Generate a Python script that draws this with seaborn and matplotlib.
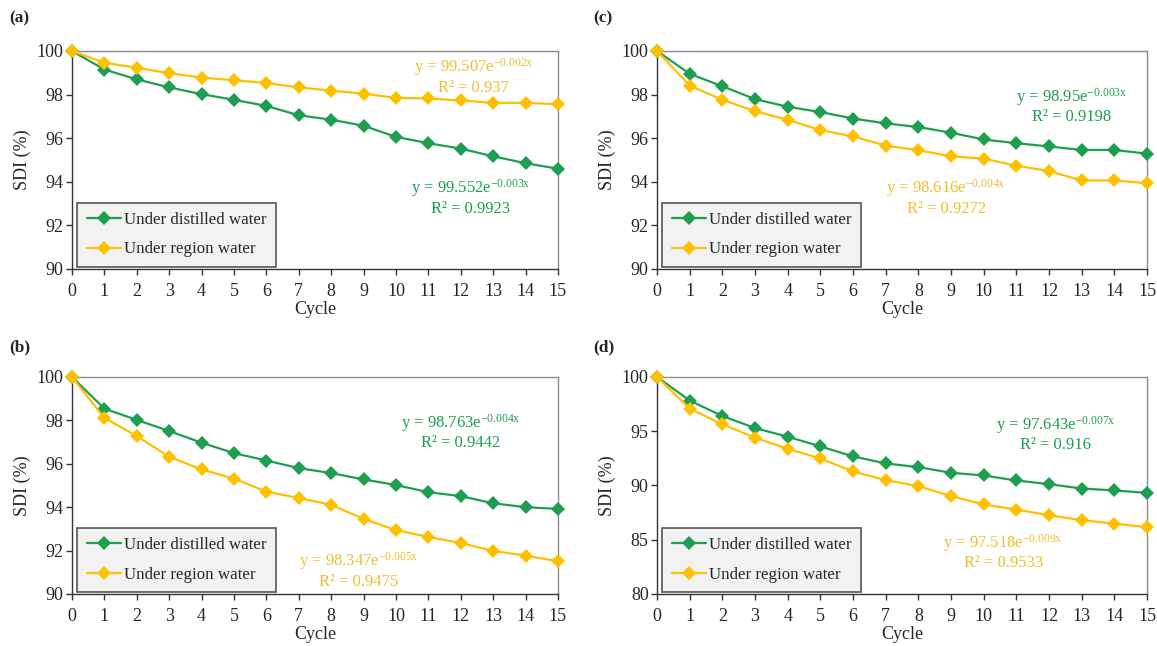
import pandas as pd
import seaborn as sns
import matplotlib.pyplot as plt

# Data (SDI %, cycles 0-15)
cycles = list(range(16))

a_distilled = [100, 99.15, 98.70, 98.33, 98.02, 97.76, 97.48, 97.05, 96.85, 96.57,
               96.06, 95.77, 95.52, 95.17, 94.85, 94.60]
a_region = [100, 99.46, 99.23, 98.98, 98.78, 98.66, 98.53, 98.33, 98.18, 98.04,
            97.85, 97.82, 97.73, 97.62, 97.62, 97.56]

b_distilled = [100, 98.54, 98.02, 97.51, 96.97, 96.49, 96.15, 95.80, 95.57, 95.28,
               95.02, 94.69, 94.51, 94.18, 94.00, 93.92]
b_region = [100, 98.11, 97.28, 96.32, 95.74, 95.31, 94.72, 94.42, 94.11, 93.46,
            92.94, 92.63, 92.35, 91.98, 91.77, 91.51]

c_distilled = [100, 98.95, 98.38, 97.79, 97.44, 97.20, 96.90, 96.68, 96.51, 96.25,
               95.94, 95.77, 95.62, 95.46, 95.46, 95.29]
c_region = [100, 98.41, 97.76, 97.24, 96.84, 96.37, 96.08, 95.66, 95.45, 95.17,
            95.06, 94.74, 94.49, 94.06, 94.06, 93.94]

d_distilled = [100, 97.82, 96.40, 95.29, 94.49, 93.60, 92.68, 92.03, 91.69, 91.17,
               90.92, 90.46, 90.12, 89.72, 89.54, 89.32]
d_region = [100, 97.08, 95.63, 94.40, 93.38, 92.49, 91.29, 90.49, 89.94, 89.02,
            88.25, 87.78, 87.26, 86.80, 86.49, 86.15]

series_names = ['Under distilled water', 'Under region water']

# trendline equations shown on the chart
fit_text = {
    'a': ('y = 99.552e$^{-0.003x}$\nR\u00b2 = 0.9923', 'y = 99.507e$^{-0.002x}$\nR\u00b2 = 0.937'),
    'b': ('y = 98.763e$^{-0.004x}$\nR\u00b2 = 0.9442', 'y = 98.347e$^{-0.005x}$\nR\u00b2 = 0.9475'),
    'c': ('y = 98.95e$^{-0.003x}$\nR\u00b2 = 0.9198', 'y = 98.616e$^{-0.004x}$\nR\u00b2 = 0.9272'),
    'd': ('y = 97.643e$^{-0.007x}$\nR\u00b2 = 0.916', 'y = 97.518e$^{-0.009x}$\nR\u00b2 = 0.9533'),
}

GREEN = '#1E9E50'
ORANGE = '#FFC000'
TEXT_ORANGE = '#F0BE2E'

sns.set_style('ticks')
plt.rcParams['font.family'] = ['Liberation Serif', 'DejaVu Serif']
plt.rcParams['mathtext.fontset'] = 'custom'
plt.rcParams['mathtext.rm'] = 'Liberation Serif'
plt.rcParams['mathtext.it'] = 'Liberation Serif'

fig = plt.figure(figsize=(11.57, 6.46), dpi=100)

# panel: (distilled, region, axes rect, ylim, ystep, green text pos, orange text pos)
panels = {
    'a': (a_distilled, a_region, [0.0622, 0.5836, 0.4200, 0.3375], (90, 100), 2,
          (12.3, 93.3), (12.4, 98.85)),
    'b': (b_distilled, b_region, [0.0622, 0.0805, 0.4200, 0.3360], (90, 100), 2,
          (12.0, 97.5), (8.85, 91.1)),
    'c': (c_distilled, c_region, [0.5679, 0.5836, 0.4235, 0.3375], (90, 100), 2,
          (12.7, 97.48), (8.85, 93.3)),
    'd': (d_distilled, d_region, [0.5679, 0.0805, 0.4235, 0.3360], (80, 100), 5,
          (12.2, 94.75), (10.6, 83.9)),
}

for key, (dist, reg, rect, ylim, ystep, pos_g, pos_o) in panels.items():
    ax = fig.add_axes(rect)
    df = pd.DataFrame({
        'Cycle': cycles * 2,
        'SDI': dist + reg,
        'Water': [series_names[0]] * len(cycles) + [series_names[1]] * len(cycles),
    })
    sns.lineplot(data=df, x='Cycle', y='SDI', hue='Water', ax=ax,
                 palette=[GREEN, ORANGE], marker='D', markersize=7.5,
                 markeredgewidth=0, linewidth=1.6, clip_on=False, zorder=3)

    ax.set_xlim(0, 15)
    ax.set_ylim(*ylim)
    ax.set_xticks(cycles)
    ax.set_yticks(range(ylim[0], ylim[1] + 1, ystep))
    ax.tick_params(labelsize=13, length=4, width=1, color='#333333', pad=2)
    ax.tick_params(axis='x', pad=6)
    ax.set_xlabel('Cycle', fontsize=13, labelpad=1)
    ax.set_ylabel('SDI (%)', fontsize=13, labelpad=4)

    for side in ['top', 'right']:
        ax.spines[side].set_color('#8c8c8c')
        ax.spines[side].set_linewidth(1.0)
    for side in ['left', 'bottom']:
        ax.spines[side].set_color('#333333')
        ax.spines[side].set_linewidth(1.0)

    leg = ax.legend(loc='lower left', bbox_to_anchor=(0.011, 0.01), borderaxespad=0,
                    fontsize=12.2, frameon=True, fancybox=False, framealpha=1,
                    handlelength=2.0, handletextpad=0.2, labelspacing=0.8,
                    borderpad=0.55)
    leg.get_frame().set_facecolor('#f2f2f2')
    leg.get_frame().set_edgecolor('#555555')
    leg.get_frame().set_linewidth(1.2)

    ax.text(pos_g[0], pos_g[1], fit_text[key][0], color=GREEN, fontsize=12,
            ha='center', va='center', linespacing=1.1)
    ax.text(pos_o[0], pos_o[1], fit_text[key][1], color=TEXT_ORANGE, fontsize=12,
            ha='center', va='center', linespacing=1.1)

# panel letters
fig.text(0.008, 0.972, '(a)', fontsize=12.5, fontweight='bold', va='center')
fig.text(0.513, 0.972, '(c)', fontsize=12.5, fontweight='bold', va='center')
fig.text(0.008, 0.462, '(b)', fontsize=12.5, fontweight='bold', va='center')
fig.text(0.513, 0.462, '(d)', fontsize=12.5, fontweight='bold', va='center')

plt.savefig('out.png', dpi=100)
